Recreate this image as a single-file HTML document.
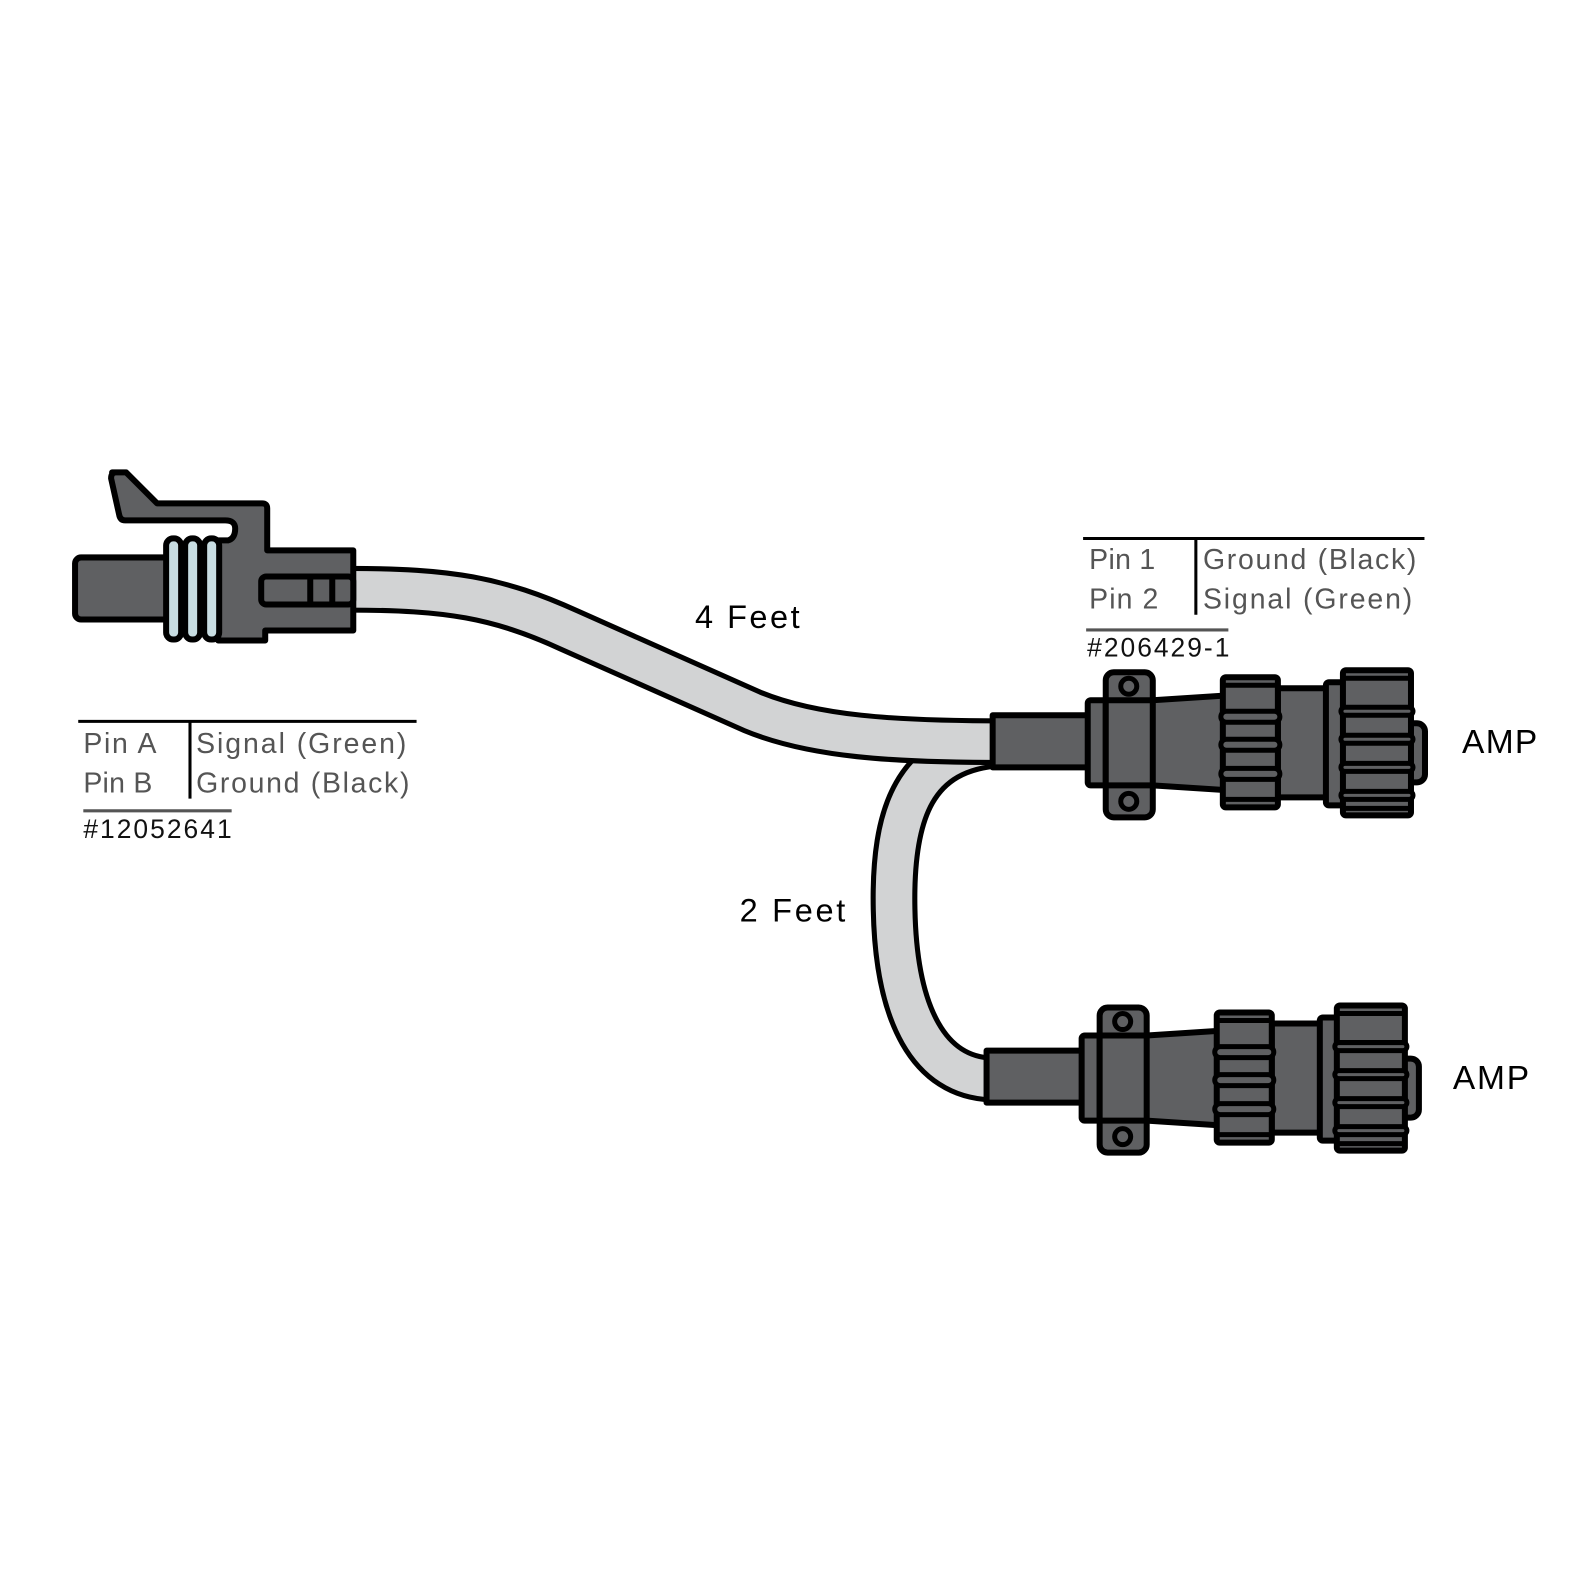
<!DOCTYPE html>
<html><head><meta charset="utf-8"><style>
html,body{margin:0;padding:0;background:#fff;}
svg{display:block;}
text{font-family:"Liberation Sans",sans-serif;}
</style></head><body>
<svg width="1585" height="1585" viewBox="0 0 1560 1560" xmlns="http://www.w3.org/2000/svg">
<defs>
<g id="amp" stroke="#000" stroke-width="6" stroke-linejoin="round" fill="#5f6062">
  <rect x="0" y="0" width="97" height="52"/>
  <rect x="95" y="-15" width="20" height="85" rx="3"/>
  <polygon points="113,-12 268,-22 268,77 113,67"/>
  <rect x="113" y="-43" width="47" height="145" rx="8"/>
  <line x1="113" y1="-15" x2="160" y2="-15"/>
  <line x1="113" y1="70" x2="160" y2="70"/>
  <circle cx="136" cy="-29" r="8" fill="#5f6062" stroke-width="5"/>
  <circle cx="136" cy="86" r="8" fill="#5f6062" stroke-width="5"/>
  <rect x="285" y="-27" width="50" height="109"/>
  <rect x="230" y="-38" width="55" height="130" rx="3"/>
  <g stroke-width="5">
    <line x1="232" y1="-30" x2="283" y2="-30"/>
    <line x1="232" y1="84" x2="283" y2="84"/>
    <rect x="228" y="-4" width="59" height="11" rx="5.5"/>
    <rect x="228" y="24" width="59" height="11" rx="5.5"/>
    <rect x="228" y="53" width="59" height="11" rx="5.5"/>
  </g>
  <rect x="333" y="-33" width="19" height="123" rx="3"/>
  <rect x="410" y="8" width="22" height="59" rx="8"/>
  <rect x="350" y="-45" width="68" height="145" rx="3"/>
  <g stroke-width="5">
    <line x1="352" y1="-37" x2="416" y2="-37"/>
    <rect x="348" y="-8" width="72" height="8" rx="4"/>
    <rect x="348" y="20" width="72" height="8" rx="4"/>
    <rect x="348" y="48" width="72" height="8" rx="4"/>
    <rect x="348" y="76" width="72" height="8" rx="4"/>
    <line x1="352" y1="93" x2="416" y2="93"/>
  </g>
</g>
</defs>

<path d="M985,733 C900,738 878,800 880,895 C882,1000 915,1060 976,1062" fill="none" stroke="#000" stroke-width="46"/>
<path d="M985,733 C900,738 878,800 880,895 C882,1000 915,1060 976,1062" fill="none" stroke="#d2d3d4" stroke-width="36"/>
<path d="M345,580 C440,580 490,588 560,620 L740,700 C800,725 880,730 985,730" fill="none" stroke="#000" stroke-width="46"/>
<path d="M345,580 C440,580 490,588 560,620 L740,700 C800,725 880,730 990,730" fill="none" stroke="#d2d3d4" stroke-width="36"/>

<g transform="scale(0.985)" stroke="#000" stroke-width="6" stroke-linejoin="round" fill="#5f6062">
  <rect x="75" y="557" width="105" height="62" rx="6"/>
  <path d="M112,472 L126,472 L157,503 L262,503 Q267,503 267,508 L267,550 L353,550 L353,630 L265,630 L265,640 L218,640 L218,540 L228,540 Q235,538 235,528 Q235,520 225,520 L125,520 Q120,520 119,514 L111,478 Q111,472 116,472 Z"/>
  <rect x="261" y="576" width="92" height="28" rx="5"/>
  <line x1="310" y1="576" x2="310" y2="604"/>
  <line x1="332" y1="576" x2="332" y2="604"/>
  <g fill="#c8dde2">
    <rect x="166" y="538" width="15" height="101" rx="7"/>
    <rect x="185" y="538" width="15" height="101" rx="7"/>
    <rect x="204" y="538" width="15" height="101" rx="7"/>
  </g>
</g>

<use href="#amp" transform="translate(977,704) scale(0.985)"/>
<use href="#amp" transform="translate(971,1034) scale(0.985)"/>

<g fill="#555" font-size="28">
  <line x1="77" y1="710" x2="410" y2="710" stroke="#000" stroke-width="3"/>
  <line x1="187" y1="710" x2="187" y2="786" stroke="#000" stroke-width="3"/>
  <text x="82" y="741" textLength="72">Pin A</text>
  <text x="82" y="780" textLength="68">Pin B</text>
  <text x="193" y="741" textLength="207">Signal (Green)</text>
  <text x="193" y="780" textLength="210">Ground (Black)</text>
  <line x1="82" y1="798" x2="228" y2="798" stroke="#555" stroke-width="3"/>
  <text x="82" y="825" fill="#111" font-size="26" textLength="146">#12052641</text>
</g>
<g fill="#555" font-size="28">
  <line x1="1066" y1="530" x2="1402" y2="530" stroke="#000" stroke-width="3"/>
  <line x1="1177" y1="530" x2="1177" y2="605" stroke="#000" stroke-width="3"/>
  <text x="1072" y="560" textLength="65">Pin 1</text>
  <text x="1072" y="599" textLength="68">Pin 2</text>
  <text x="1184" y="560" textLength="210">Ground (Black)</text>
  <text x="1184" y="599" textLength="206">Signal (Green)</text>
  <line x1="1069" y1="620" x2="1209" y2="620" stroke="#555" stroke-width="3"/>
  <text x="1070" y="646" fill="#111" font-size="26" textLength="140">#206429-1</text>
</g>
<g fill="#000" font-size="32">
  <text x="684" y="618" textLength="103">4 Feet</text>
  <text x="728" y="907" textLength="104">2 Feet</text>
  <text x="1439" y="741" font-size="33" textLength="74">AMP</text>
  <text x="1430" y="1072" font-size="33" textLength="75">AMP</text>
</g>
</svg>
</body></html>
